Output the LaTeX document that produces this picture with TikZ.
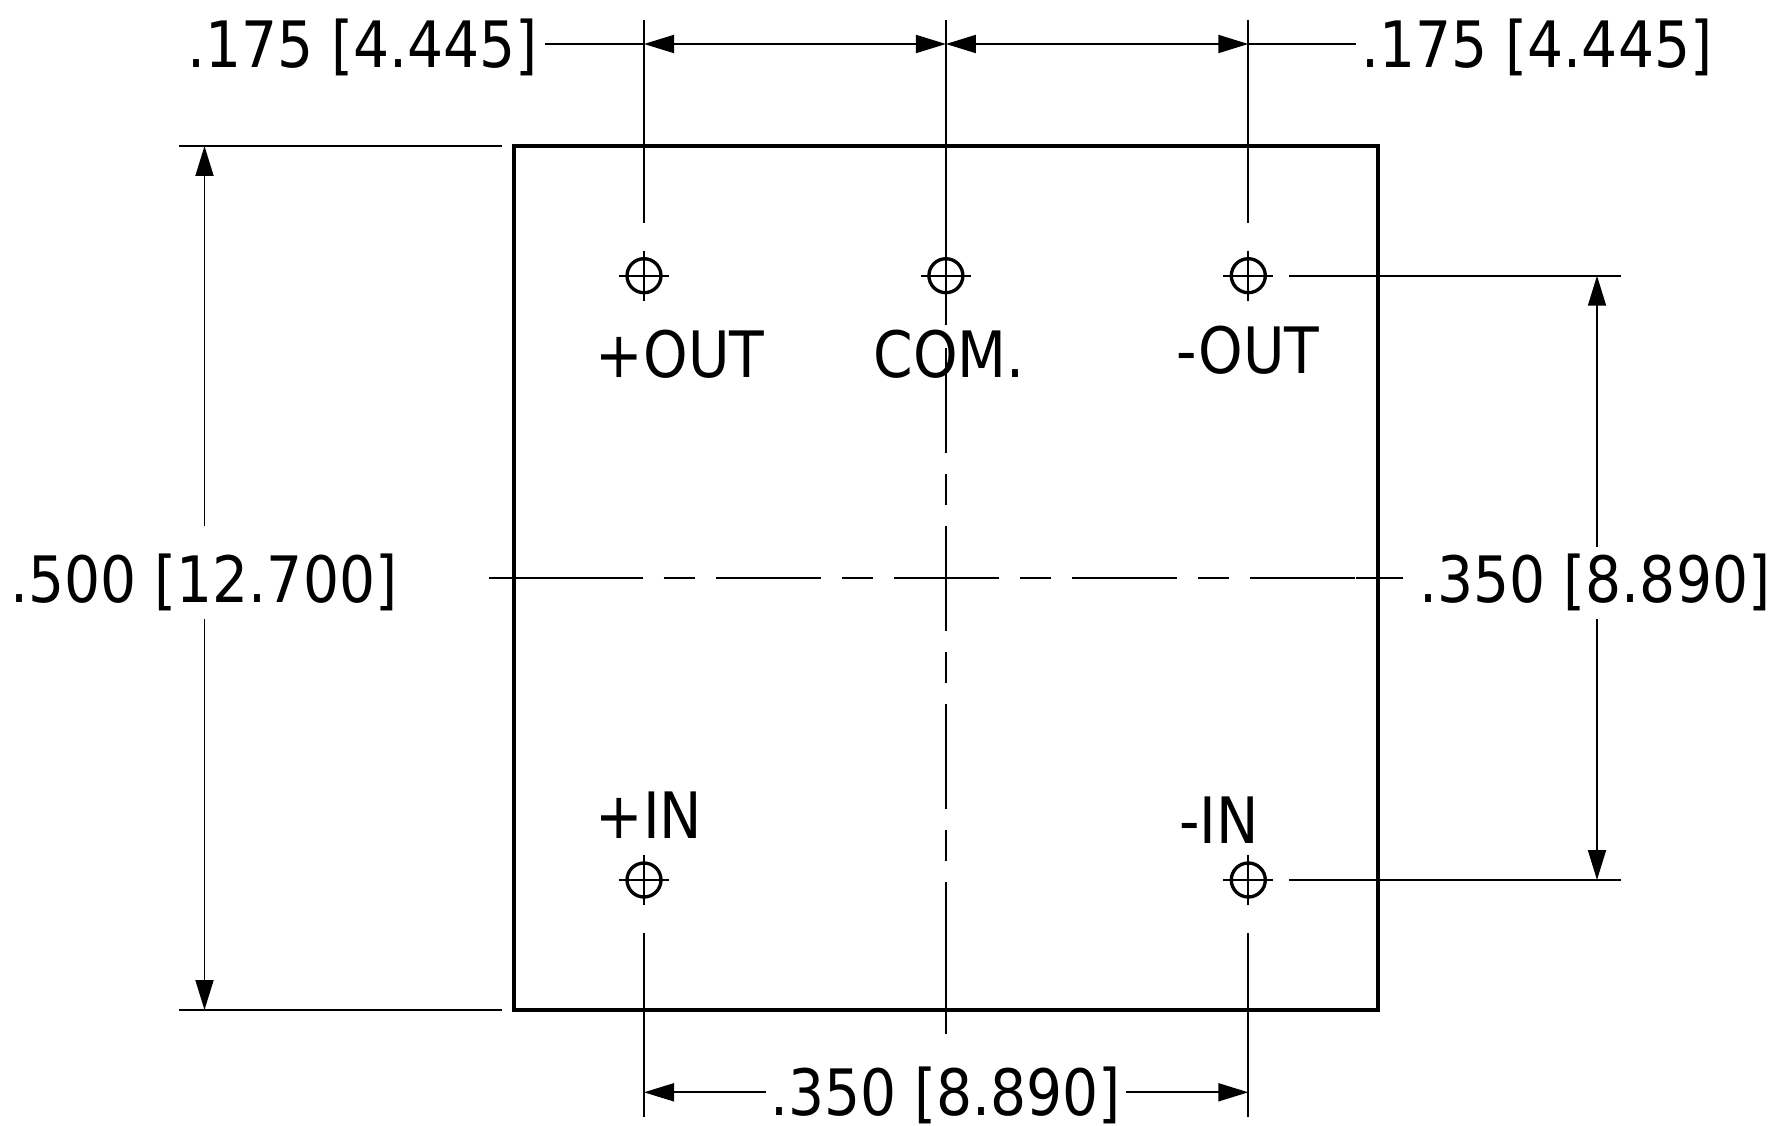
\documentclass[tikz,border=0pt]{standalone}
\usepackage{fontspec}
\setmainfont[FakeStretch=0.985]{DejaVu Sans Condensed}
\usepackage{tikz}
\usetikzlibrary{positioning, arrows.meta, calc}

\begin{document}
\begin{tikzpicture}[
    y=-1cm,
    outline/.style={draw, line width=1.1pt},
    thinline/.style={line width=0.52pt},
    dimarrow/.style={{Triangle[length=3mm, width=1.8mm]}-{Triangle[length=3mm, width=1.8mm]}, line width=0.52pt},
    tipstart/.style={{Triangle[length=3mm, width=1.8mm]}-, line width=0.52pt},
    centerline/.style={line width=0.52pt, dash pattern=on 1.045cm off 0.21cm on 0.315cm off 0.21cm},
    hole/.style={draw, circle, minimum size=0.34cm, inner sep=0pt, line width=0.95pt},
    dimtext/.style={font=\fontsize{18.2}{20}\selectfont, inner sep=0pt},
    pinlabel/.style={font=\fontsize{18.2}{20}\selectfont, inner sep=0pt}
]
    \useasboundingbox (0,0) rectangle (17.75,11.26);

    % Outline
    \node[outline, minimum width=8.64cm, minimum height=8.64cm, inner sep=0pt] (body) at (9.46,5.78) {};

    % Holes
    \node[hole] (plusout) at (6.44,2.757) {};
    \node[hole] (com) at (9.459,2.757) {};
    \node[hole] (minusout) at (12.483,2.757) {};
    \node[hole] (plusin) at (6.44,8.80) {};
    \node[hole] (minusin) at (12.483,8.80) {};

    % Crosshairs
    \draw[thinline] ($(plusout)+(-0.25,0)$) -- ($(plusout)+(0.25,0)$);
    \draw[thinline] ($(plusout)+(0,-0.25)$) -- ($(plusout)+(0,0.25)$);
    \draw[thinline] ($(com)+(-0.25,0)$) -- ($(com)+(0.25,0)$);
    \draw[thinline] ($(minusout)+(-0.25,0)$) -- ($(minusout)+(0.25,0)$);
    \draw[thinline] ($(minusout)+(0,-0.25)$) -- ($(minusout)+(0,0.25)$);
    \draw[thinline] ($(plusin)+(-0.25,0)$) -- ($(plusin)+(0.25,0)$);
    \draw[thinline] ($(plusin)+(0,-0.25)$) -- ($(plusin)+(0,0.25)$);
    \draw[thinline] ($(minusin)+(-0.25,0)$) -- ($(minusin)+(0.25,0)$);
    \draw[thinline] ($(minusin)+(0,-0.25)$) -- ($(minusin)+(0,0.25)$);

    % Pin labels
    \node[pinlabel] (lplusout) at (6.80,3.54) {+OUT};
    \node[pinlabel] (lcom) at (9.49,3.54) {COM.};
    \node[pinlabel] (lminusout) at (12.48,3.50) {-OUT};
    \node[pinlabel] (lplusin) at (6.49,8.15) {+IN};
    \node[pinlabel] (lminusin) at (12.19,8.20) {-IN};

    % Dimension texts
    \node[dimtext] (toplefttext) at (3.627,0.47) {.175 [4.445]};
    \node[dimtext] (toprighttext) at (15.37,0.47) {.175 [4.445]};
    \node[dimtext] (lefttext) at (2.04,5.82) {.500 [12.700]};
    \node[dimtext] (righttext) at (15.95,5.82) {.350 [8.890]};
    \node[dimtext] (bottomtext) at (9.456,10.95) {.350 [8.890]};

    % Centre lines
    \coordinate (hleft) at (4.89,5.783);
    \coordinate (hdashl) at (5.38,5.783);
    \coordinate (hdashr) at (13.56,5.783);
    \coordinate (hright) at (14.03,5.783);
    \draw[thinline] (hleft) -- (hdashl);
    \draw[centerline] (hdashl) -- (hdashr);
    \draw[thinline] (hdashr) -- (hright);
    \coordinate (vtop) at (9.459,0.20);
    \coordinate (vgap) at (9.459,3.25);
    \coordinate (vdasht) at (9.459,3.48);
    \coordinate (vdashb) at (9.459,9.87);
    \coordinate (vbottom) at (9.459,10.34);
    \draw[thinline] (vtop) -- (vgap);
    \draw[centerline] (vdasht) -- (vdashb);
    \draw[thinline] (vdashb) -- (vbottom);

    % Extension lines
    \coordinate (extpot) at (6.44,0.20);
    \coordinate (extpob) at (6.44,2.23);
    \coordinate (extmot) at (12.483,0.20);
    \coordinate (extmob) at (12.483,2.23);
    \coordinate (extpit) at (6.44,9.33);
    \coordinate (extpib) at (6.44,11.17);
    \coordinate (extmit) at (12.483,9.33);
    \coordinate (extmib) at (12.483,11.17);
    \draw[thinline] (extpot) -- (extpob);
    \draw[thinline] (extmot) -- (extmob);
    \draw[thinline] (extpit) -- (extpib);
    \draw[thinline] (extmit) -- (extmib);
    \coordinate (exttl) at (1.79,1.46);
    \coordinate (exttr) at (5.02,1.46);
    \coordinate (extbl) at (1.79,10.10);
    \coordinate (extbr) at (5.02,10.10);
    \draw[thinline] (exttl) -- (exttr);
    \draw[thinline] (extbl) -- (extbr);
    \coordinate (extol) at (12.89,2.757);
    \coordinate (extor) at (16.21,2.757);
    \coordinate (extil) at (12.89,8.80);
    \coordinate (extir) at (16.21,8.80);
    \draw[thinline] (extol) -- (extor);
    \draw[thinline] (extil) -- (extir);

    % Top dimensions
    \coordinate (dimtl) at (6.44,0.44);
    \coordinate (dimtc) at (9.459,0.44);
    \coordinate (dimtr) at (12.483,0.44);
    \coordinate (dimtls) at (5.445,0.44);
    \coordinate (dimtrs) at (13.56,0.44);
    \draw[thinline] (dimtls) -- (dimtl);
    \draw[dimarrow] (dimtl) -- (dimtc);
    \draw[dimarrow] (dimtc) -- (dimtr);
    \draw[thinline] (dimtr) -- (dimtrs);

    % Left dimension
    \coordinate (dimlt) at (2.045,1.46);
    \coordinate (dimlts) at (2.045,5.26);
    \coordinate (dimlbs) at (2.045,6.19);
    \coordinate (dimlb) at (2.045,10.10);
    \draw[tipstart] (dimlt) -- (dimlts);
    \draw[tipstart] (dimlb) -- (dimlbs);

    % Right dimension
    \coordinate (dimrt) at (15.97,2.757);
    \coordinate (dimrts) at (15.97,5.47);
    \coordinate (dimrbs) at (15.97,6.19);
    \coordinate (dimrb) at (15.97,8.80);
    \draw[tipstart] (dimrt) -- (dimrts);
    \draw[tipstart] (dimrb) -- (dimrbs);

    % Bottom dimension
    \coordinate (dimbl) at (6.44,10.923);
    \coordinate (dimbls) at (7.66,10.923);
    \coordinate (dimbrs) at (11.26,10.923);
    \coordinate (dimbr) at (12.483,10.923);
    \draw[tipstart] (dimbl) -- (dimbls);
    \draw[tipstart] (dimbr) -- (dimbrs);
\end{tikzpicture}
\end{document}
